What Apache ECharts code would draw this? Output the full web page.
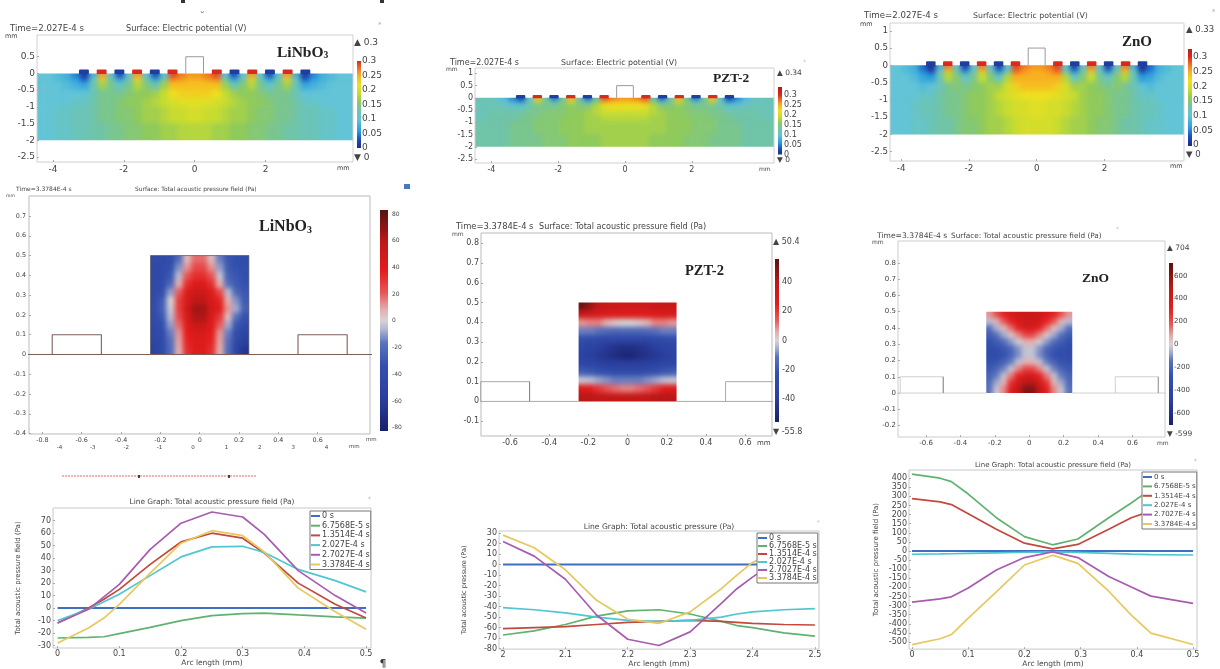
<!DOCTYPE html>
<html><head><meta charset="utf-8">
<style>
html,body{margin:0;padding:0;background:#fff;width:1220px;height:669px;overflow:hidden}
#heat,#main{position:absolute;left:0;top:0;width:1220px;height:669px}
#heat{filter:blur(2.6px)}
#main{filter:blur(0.45px)}
</style>
<script src="https://cdn.jsdelivr.net/npm/echarts@6/dist/echarts.min.js"></script>
</head><body><div id="heat"></div><div id="main"></div>
<script>
// ---- electric potential fields, 0.01 V, right half (x = 0 .. 4.5 mm, 0.25 mm columns); the model is symmetric about x = 0
const potColumnEdges = [0,.25,.5,.75,1,1.25,1.5,1.75,2,2.25,2.5,2.75,3,3.25,3.5,3.75,4,4.25,4.5];
const potRowEdges = [0,-.125,-.25,-.5,-.75,-1,-1.5,-2];
const potLiNbO3 = [
 [26,27,29,10,2,10,26,10,2,10,26,8,1,5,8,9,10,10],
 [25,26,27,12,6,12,23,12,6,12,23,11,3,6,8,9,10,10],
 [24,24,24,17,12,15,18,14,11,14,17,12,7,8,9,10,10,10],
 [23,23,22,19,17,16,16,15,14,14,14,12,10,10,10,10,10,10],
 [21,21,20,19,18,17,16,16,15,14,14,13,11,11,10,10,10,10],
 [20,19,19,18,17,17,16,15,15,14,14,13,12,12,11,11,10,10],
 [18,18,17,17,16,16,15,15,14,14,13,13,12,12,11,11,10,10]];
const potPZT2 = [
 [26,27,29,12,3,12,25,13,4,13,24,10,1,5,9,11,12,12],
 [24,24,25,15,10,14,20,15,11,14,18,12,6,8,10,12,12,12],
 [22,22,21,18,15,15,16,15,14,14,14,13,11,11,12,12,12,12],
 [19,19,19,18,17,16,16,15,15,15,14,14,13,13,13,13,12,12],
 [18,18,18,17,17,16,16,16,15,15,15,14,14,13,13,13,13,12],
 [17,17,17,17,17,16,16,16,15,15,15,14,14,14,13,13,13,13],
 [17,17,17,16,16,16,16,15,15,15,14,14,14,14,13,13,13,13]];
const potZnO = [
 [26,27,29,10,1,10,27,10,1,10,27,8,0,4,8,9,10,10],
 [25,26,28,12,5,13,24,12,5,13,24,11,2,5,8,9,10,10],
 [25,25,25,18,11,15,19,14,11,15,18,12,6,7,9,10,10,10],
 [24,24,23,20,17,17,16,15,14,15,14,12,10,9,10,10,10,10],
 [22,22,21,20,19,17,16,16,15,14,14,13,11,11,10,10,10,10],
 [21,20,20,19,18,17,16,16,15,14,14,13,12,12,11,10,10,10],
 [20,20,19,18,17,17,16,15,15,14,13,13,12,11,11,10,10,10]];
// ---- acoustic pressure fields, Pa, rows from y = 0.5 down to y = 0, columns x = -0.25 .. 0.25
const pressLiNbO3 = [
 [-40,-40,-38,-20,5,18,18,5,-15,-30,-35,-38],
 [-42,-40,-35,-12,12,25,25,12,-10,-28,-33,-35],
 [-42,-40,-30,-5,22,32,32,22,-3,-25,-30,-33],
 [-42,-38,-22,8,32,42,42,32,8,-18,-28,-32],
 [-42,-35,-10,20,40,50,50,40,25,-5,-22,-30],
 [-40,-28,0,28,45,58,58,45,35,8,-12,-28],
 [-38,-25,-2,28,48,65,65,48,38,12,-8,-25],
 [-40,-30,-5,25,45,62,62,45,30,5,-18,-32],
 [-42,-35,-10,18,40,52,52,40,20,-8,-30,-40],
 [-45,-38,-15,12,38,45,45,38,12,-15,-38,-48],
 [-48,-40,-18,10,35,42,42,35,10,-18,-42,-55],
 [-52,-42,-20,8,32,40,40,32,8,-20,-48,-65]];
const pressPZT2 = [
 [52,45,38,35,35,33,33,33,33,35,35,35],
 [35,32,30,28,28,28,28,28,28,28,30,30],
 [8,10,10,5,2,0,0,2,5,10,10,8],
 [-10,-10,-12,-14,-15,-15,-15,-15,-14,-12,-10,-10],
 [-25,-27,-28,-30,-30,-30,-30,-30,-30,-28,-27,-25],
 [-32,-35,-38,-42,-45,-47,-47,-45,-42,-38,-35,-32],
 [-35,-38,-42,-45,-48,-52,-52,-48,-45,-42,-38,-35],
 [-30,-32,-35,-37,-38,-38,-38,-38,-37,-35,-32,-30],
 [-18,-20,-22,-24,-26,-26,-26,-26,-24,-22,-20,-18],
 [-2,-3,-6,-8,-10,-10,-10,-10,-8,-6,-3,-2],
 [28,25,20,15,12,10,10,12,15,20,25,28],
 [40,40,38,38,38,38,38,38,38,40,40,40]];
const pressZnO = [
 [100,200,300,380,420,450,450,420,380,300,200,100],
 [-40,60,180,300,390,420,420,390,300,180,60,-40],
 [-150,-60,40,150,300,380,380,300,150,40,-60,-150],
 [-230,-150,-70,20,120,220,220,120,20,-70,-150,-230],
 [-280,-230,-170,-90,-10,70,70,-10,-90,-170,-230,-280],
 [-320,-300,-250,-190,-100,-30,-30,-100,-190,-250,-300,-320],
 [-340,-320,-280,-200,-110,-30,-30,-110,-200,-280,-320,-340],
 [-300,-270,-210,-130,-30,60,60,-30,-130,-210,-270,-300],
 [-250,-200,-120,-20,120,220,220,120,-20,-120,-200,-250],
 [-200,-130,-30,130,300,380,380,300,130,-30,-130,-200],
 [-170,-70,60,260,400,500,500,400,260,60,-70,-170],
 [-140,-20,120,330,470,620,620,470,330,120,-20,-140]];
const pressColumnEdges = [-.25,-.2083,-.1667,-.125,-.0833,-.0417,0,.0417,.0833,.125,.1667,.2083,.25];
const pressRowEdges = [.5,.4583,.4167,.375,.3333,.2917,.25,.2083,.1667,.125,.0833,.0417,0];
// ---- electrodes
const electrodeBlue = [-3.125,-2.125,-1.125,1.125,2.125,3.125];
const electrodeRed = [-2.625,-1.625,-.625,.625,1.625,2.625];
// ---- line graphs
const seriesNames = ['0 s','6.7568E-5 s','1.3514E-4 s','2.027E-4 s','2.7027E-4 s','3.3784E-4 s'];
const arcLiNbO3 = [0,.05,.075,.1,.15,.2,.25,.3,.335,.39,.45,.5];
const lineLiNbO3 = [
 [0,0,0,0,0,0,0,0,0,0,0,0],
 [-24,-23.5,-23,-20.5,-15.5,-10,-6,-4.5,-4,-5.5,-7,-8],
 [-12,0,7,15,35,53,60,56,44,20,3,-8],
 [-10,-1,5,11,26,41,49,49.5,44.5,31,22,13],
 [-12,-1,9,19,47,68,77,73,59,30,10,-4],
 [-28,-16,-8,3,28,52,62,58,45,16,-3,-17]];
const arcPZT2 = [2,2.05,2.1,2.15,2.2,2.25,2.3,2.35,2.375,2.4,2.45,2.5];
const linePZT2 = [
 [0,0,0,0,0,0,0,0,0,0,0,0],
 [-67,-63,-57,-49,-44,-43,-47,-54,-58,-60,-65,-68],
 [-61,-60,-59,-57,-55,-54,-53,-54,-55,-56,-57,-57.5],
 [-41,-43,-46,-50,-53,-54,-53,-50,-47,-45,-43,-42],
 [22,8,-14,-48,-71,-77,-64,-37,-23,-12,8,22],
 [28,16,-5,-34,-52,-56,-45,-23,-10,2,16,28]];
const arcZnO = [0,.05,.07,.1,.15,.2,.25,.295,.35,.39,.425,.5];
const lineZnO = [
 [0,0,0,0,0,0,0,0,0,0,0,0],
 [422,400,381,313,183,79,34,66,183,264,340,420],
 [288,270,255,205,120,43,12,36,120,183,219,284],
 [-18,-16,-15,-13,-10,-7,-5,-8,-13,-17,-20,-22],
 [-281,-263,-252,-203,-104,-36,-5,-36,-140,-198,-248,-288],
 [-514,-482,-459,-369,-225,-77,-23,-68,-221,-352,-451,-514]];
// ---- tick labels
const ticksA = {x:[-4,-2,0,2], y:[.5,0,-.5,-1,-1.5,-2,-2.5]};
const ticksB = {x:[-4,-2,0,2], y:[1,.5,0,-.5,-1,-1.5,-2,-2.5]};
const ticksD = {x:[-.8,-.6,-.4,-.2,0,.2,.4,.6], y:[.7,.6,.5,.4,.3,.2,.1,0,-.1,-.2,-.3,-.4], x2:[-4,-3,-2,-1,0,1,2,3,4]};
const ticksE = {x:[-.6,-.4,-.2,0,.2,.4,.6], y:[.8,.7,.6,.5,.4,.3,.2,.1,0,-.1]};
const ticksF = {x:[-.6,-.4,-.2,0,.2,.4,.6], y:[.8,.7,.6,.5,.4,.3,.2,.1,0,-.1,-.2]};
const ticksG = {x:[0,.1,.2,.3,.4,.5], y:[70,60,50,40,30,20,10,0,-10,-20,-30]};
const ticksH = {x:[2,2.1,2.2,2.3,2.4,2.5], y:[30,20,10,0,-10,-20,-30,-40,-50,-60,-70,-80]};
const ticksI = {x:[0,.1,.2,.3,.4,.5], y:[400,350,300,250,200,150,100,50,0,-50,-100,-150,-200,-250,-300,-350,-400,-450,-500]};
const barPot = [.3,.25,.2,.15,.1,.05,0];
const barA = [80,60,40,20,0,-20,-40,-60,-80];
const barE = [40,20,0,-20,-40];
const barF = [600,400,200,0,-200,-400,-600];

// ---- colour maps
const rainbow = [[0,'#1c2c8c'],[3,'#1a50c0'],[6,'#2a9ee0'],[10,'#62c4d6'],[13,'#70c4a8'],[16,'#8fca5c'],[19,'#c8dc30'],[22,'#eee020'],[25,'#f8b020'],[28,'#ee6020'],[30,'#d42820'],[34,'#b81818']];
const wave = [[-1,'#18206a'],[-.7,'#2a3f9e'],[-.4,'#3350ae'],[-.2,'#5a72bc'],[-.08,'#b0b5d2'],[0,'#d8d4d4'],[.1,'#e3b0b0'],[.25,'#e85858'],[.45,'#e41c1c'],[.7,'#c01818'],[1,'#5a1010']];
function colorAt(stops,v){
  if(v<=stops[0][0])return stops[0][1];
  for(let i=1;i<stops.length;i++){ if(v<=stops[i][0]){
    const t=(v-stops[i-1][0])/(stops[i][0]-stops[i-1][0]);
    return echarts.color.lerp(t,[stops[i-1][1],stops[i][1]]);
  }}
  return stops[stops.length-1][1];
}
const FONT='DejaVu Sans';
// ---- panel layout [left, top, right, bottom] in px
const surf=[
 {g:[37,35,353,162],x:[-4.45,4.47],y:[-2.65,1.15],t:ticksA,f:9,xe:ticksA,bc:'#d0d0d0'},
 {g:[475,68,774,163],x:[-4.49,4.46],y:[-2.66,1.22],t:ticksB,f:8,bc:'#d0d0d0'},
 {g:[890,23,1184,161],x:[-4.33,4.35],y:[-2.77,1.226],t:ticksB,f:8.7,bc:'#d0d0d0'},
 {g:[29,196,370,434],x:[-.868,.866],y:[-.402,.801],t:ticksD,f:6.4,bc:'#bbb'},
 {g:[481,233,772,436],x:[-.748,.737],y:[-.175,.852],t:ticksE,f:8,bc:'#bbb'},
 {g:[898,241,1165,437],x:[-.763,.789],y:[-.27,.934],t:ticksF,f:7,bc:'#ccc'}];
const lines=[
 {g:[53,508,371,648],x:[-.0075,.508],y:[-32,80.2],t:ticksG,arc:arcLiNbO3,v:lineLiNbO3,name:'Total acoustic pressure field (Pa)',nameGap:31,xGap:8,
  leg:[310,511],row:.7,lf:8},
 {g:[499,531,819,651],x:[1.9936,2.5066],y:[-80.4,31.9],t:ticksH,arc:arcPZT2,v:linePZT2,name:'Total acoustic pressure (Pa)',nameGap:31,xGap:5,
  leg:[757,533],row:-1,lf:8},
 {g:[909,470,1197,652],x:[-.0054,.507],y:[-539,445],t:ticksI,arc:arcZnO,v:lineZnO,name:'Total acoustic pressure field (Pa)',nameGap:29,xGap:7,
  leg:[1142,472],row:.4,lf:7}];
const lineColors=['#3f6fbf','#5fb36f','#c2493c','#4fc6d2','#a85cb0','#e8c85e'];
const bars=[
 {g:[357,61,361,148],r:[0,.3],t:barPot,pal:rainbow,k:100,f:9,m:1},
 {g:[778,87,782,154.5],r:[0,.34],t:barPot,pal:rainbow,k:100,f:8,m:2},
 {g:[1188,49,1192,146],r:[-.003,.327],t:barPot,pal:rainbow,k:100,f:9,m:1},
 {g:[380,210,388,431],r:[-82.5,83],t:barA,pal:wave,s:83,f:6,m:4},
 {g:[775,259,779,422],r:[-55.7,55.7],t:barE,pal:wave,s:55.7,f:8,m:3},
 {g:[1169,263,1173,425],r:[-702,711],t:barF,pal:wave,s:705,f:7,m:1}];
const box=g=>({left:g[0],top:g[1],width:g[2]-g[0],height:g[3]-g[1],containLabel:false});

// ================= heat layer =================
function heatSeries(i,data,colorFn,bounds){
  return {type:'custom',coordinateSystem:'cartesian2d',xAxisIndex:i,yAxisIndex:i,silent:true,clip:false,data,
    encode:{x:[0,1],y:[2,3]},
    renderItem(params,api){
      const a=api.coord([api.value(0),api.value(2)]), b=api.coord([api.value(1),api.value(3)]);
      let x0=a[0],x1=b[0],y0=a[1],y1=b[1];
      if(api.value(0)===bounds[0])x0-=12; if(api.value(1)===bounds[1])x1+=12;
      if(api.value(2)===bounds[2])y0-=12; if(api.value(3)===bounds[3])y1+=12;
      const c=colorFn(api.value(4));
      return {type:'rect',shape:{x:x0,y:y0,width:x1-x0,height:y1-y0},style:{fill:c,stroke:c,lineWidth:1}};
    }};
}
function potData(m){const out=[];m.forEach((row,r)=>row.forEach((v,c)=>{
  out.push([potColumnEdges[c],potColumnEdges[c+1],potRowEdges[r],potRowEdges[r+1],v]);
  out.push([-potColumnEdges[c+1],-potColumnEdges[c],potRowEdges[r],potRowEdges[r+1],v]);
}));return out;}
function pressData(m){const out=[];m.forEach((row,r)=>row.forEach((v,c)=>{
  out.push([pressColumnEdges[c],pressColumnEdges[c+1],pressRowEdges[r],pressRowEdges[r+1],v]);
}));return out;}
const heat=echarts.init(document.getElementById('heat'),null,{renderer:'canvas'});
heat.setOption({animation:false,
  grid:surf.map(p=>box(p.g)),
  xAxis:surf.map((p,i)=>({type:'value',gridIndex:i,min:p.x[0],max:p.x[1],show:false})),
  yAxis:surf.map((p,i)=>({type:'value',gridIndex:i,min:p.y[0],max:p.y[1],show:false})),
  series:[
   heatSeries(0,potData(potLiNbO3),v=>colorAt(rainbow,v),[-4.5,4.5,0,-2]),
   heatSeries(1,potData(potPZT2),v=>colorAt(rainbow,v),[-4.5,4.5,0,-2]),
   heatSeries(2,potData(potZnO),v=>colorAt(rainbow,v),[-4.5,4.5,0,-2]),
   heatSeries(3,pressData(pressLiNbO3),v=>colorAt(wave,v/83),[-.25,.25,.5,0]),
   heatSeries(4,pressData(pressPZT2),v=>colorAt(wave,v/55.7),[-.25,.25,.5,0]),
   heatSeries(5,pressData(pressZnO),v=>colorAt(wave,v/705),[-.25,.25,.5,0])
  ]});
// clip the blurred layer to the field rectangles, as located by the axes
{
  const rects=surf.map((p,i)=>{
    const pot=i<3;
    const xa=pot?p.x[0]:-.25, xb=pot?p.x[1]:.25, yt=pot?0:.5, yb=pot?-2:0;
    const A=heat.convertToPixel({gridIndex:i},[xa,yt]), B=heat.convertToPixel({gridIndex:i},[xb,yb]);
    return `M${A[0]} ${A[1]}H${B[0]}V${B[1]}H${A[0]}Z`;
  }).join('');
  document.getElementById('heat').style.clipPath=`path('${rects}')`;
}

// ================= main layer =================
const grids=[...surf,...lines,...bars].map(p=>box(p.g));
const labelStyle=(f,c)=>({fontFamily:FONT,fontSize:f,color:c||'#444',formatter:v=>String(v)});
const noLine={show:false,onZero:false};
const xAxes=[],yAxes=[];
surf.forEach((p,i)=>{
  xAxes.push({type:'value',gridIndex:i,min:p.x[0],max:p.x[1],axisLine:noLine,splitLine:{show:false},
    axisTick:{customValues:p.t.x,inside:true,length:2,lineStyle:{color:'#aaa'}},
    axisLabel:{...labelStyle(p.f),customValues:p.t.x,margin:3}});
  yAxes.push({type:'value',gridIndex:i,min:p.y[0],max:p.y[1],axisLine:noLine,splitLine:{show:false},
    axisTick:{customValues:p.t.y,inside:true,length:2,lineStyle:{color:'#aaa'}},
    axisLabel:{...labelStyle(p.f),customValues:p.t.y,margin:i===3?3:2}});
});
lines.forEach((p,k)=>{
  const i=6+k;
  xAxes.push({type:'value',gridIndex:i,min:p.x[0],max:p.x[1],axisLine:noLine,splitLine:{show:false},
    axisTick:{customValues:p.t.x,inside:true,length:2,lineStyle:{color:'#aaa'}},
    axisLabel:{...labelStyle(8),customValues:p.t.x,margin:2},
    name:'Arc length (mm)',nameLocation:'middle',nameGap:p.xGap,nameTextStyle:{fontFamily:FONT,fontSize:7.5,color:'#444',verticalAlign:'top'}});
  yAxes.push({type:'value',gridIndex:i,min:p.y[0],max:p.y[1],axisLine:noLine,splitLine:{show:false},
    axisTick:{customValues:p.t.y,inside:true,length:2,lineStyle:{color:'#aaa'}},
    axisLabel:{...labelStyle(8),customValues:p.t.y,margin:2},
    name:p.name,nameLocation:'middle',nameRotate:90,nameGap:p.nameGap,nameTextStyle:{fontFamily:FONT,fontSize:k===1?6.5:7,color:'#444'}});
});
bars.forEach((p,k)=>{
  const i=9+k;
  xAxes.push({type:'value',gridIndex:i,min:0,max:1,show:false});
  yAxes.push({type:'value',gridIndex:i,position:'right',min:p.r[0],max:p.r[1],axisLine:noLine,axisTick:{show:false},splitLine:{show:false},
    axisLabel:{...labelStyle(p.f),customValues:p.t,margin:p.m}});
});
// second scale under the LiNbO3 pressure panel
xAxes.push({type:'value',gridIndex:3,position:'bottom',offset:8,min:-4.91,max:5.3,axisLine:noLine,axisTick:{show:false},splitLine:{show:false},
  axisLabel:{...labelStyle(5.5),customValues:ticksD.x2,margin:3}});

const series=[];
// outlines
const outline=(i,pts,color,w)=>series.push({type:'line',xAxisIndex:i,yAxisIndex:i,data:pts,showSymbol:false,silent:true,
   lineStyle:{color,width:w},z:3});
const dropOutline=[[-.25,0],[-.25,.5],[.25,.5],[.25,0]];
[0,1,2].forEach(i=>outline(i,dropOutline,'#9a9a9a',1));
const groundLeft=[[-.9,0],[-.25,0]], groundRight=[[.25,0],[.9,0]];
const sensorLeft=[[-.75,0],[-.75,.1],[-.5,.1],[-.5,0]], sensorRight=[[.5,0],[.5,.1],[.75,.1],[.75,0]];
[[3,'#7c6058',1.1],[4,'#aaaaaa',1],[5,'#cfcfcf',1]].forEach(([i,c,w])=>{
  [groundLeft,groundRight,sensorLeft,sensorRight].forEach(s=>outline(i,s,c,w));
});
outline(3,[[-.25,0],[.25,0]],'#7c6058',1.1);
outline(3,[[-.25,0],[-.25,.5],[.25,.5],[.25,0]],'#55505a',.7);
outline(4,[[-.5,0],[-.5,.1]],'#888',1);
outline(5,[[-.5,0],[-.5,.1]],'#888',1);
outline(5,[[.75,0],[.75,.1]],'#999',1);
// electrodes
[0,1,2].forEach(i=>{
  const d=[...electrodeBlue.map(x=>[x-.14,x+.14,.12,-.02,0]),...electrodeRed.map(x=>[x-.14,x+.14,.12,-.02,1])];
  series.push({type:'custom',xAxisIndex:i,yAxisIndex:i,silent:true,data:d,encode:{x:[0,1],y:[2,3]},z:4,
    renderItem(params,api){
      const a=api.coord([api.value(0),api.value(2)]),b=api.coord([api.value(1),api.value(3)]);
      return {type:'rect',shape:{x:a[0],y:a[1],width:b[0]-a[0],height:b[1]-a[1],r:[1,1,0,0]},
        style:{fill:api.value(4)?'#d82a20':'#1f3fa0'}};
    }});
});
// line graphs
lines.forEach((p,k)=>{
  p.v.forEach((vals,j)=>series.push({type:'line',name:seriesNames[j],xAxisIndex:6+k,yAxisIndex:6+k,
    data:vals.map((v,q)=>[p.arc[q],v]),showSymbol:false,silent:true,
    lineStyle:{color:lineColors[j],width:j===0?2:1.7},itemStyle:{color:lineColors[j]},z:j===0?2:3}));
});
// colour bars
bars.forEach((p,k)=>{
  const n=40,st=[];
  for(let q=0;q<=n;q++){const v=p.r[1]-(p.r[1]-p.r[0])*q/n;
    st.push({offset:q/n,color:p.pal===rainbow?colorAt(rainbow,v*p.k):colorAt(wave,v/p.s)});}
  series.push({type:'custom',xAxisIndex:9+k,yAxisIndex:9+k,silent:true,data:[[0,1,p.r[1],p.r[0]]],encode:{x:[0,1],y:[2,3]},
    renderItem(params,api){
      const a=api.coord([api.value(0),api.value(2)]),b=api.coord([api.value(1),api.value(3)]);
      return {type:'rect',shape:{x:a[0],y:a[1],width:b[0]-a[0],height:b[1]-a[1]},
        style:{fill:new echarts.graphic.LinearGradient(0,0,0,1,st)}};
    }});
});
// annotation text
const T=(text,x,y,size,o={})=>({type:'text',x,y,silent:true,z:20,style:{text,fontFamily:o.font||FONT,fontSize:size,fontWeight:o.bold?'bold':'normal',
   fill:o.color||'#444',textAlign:o.align||'left',textVerticalAlign:'middle',rich:o.rich}});
const SER='Liberation Serif';
const liRich=s=>({a:{fontFamily:SER,fontWeight:'bold',fontSize:s,fill:'#222'},b:{fontFamily:SER,fontWeight:'bold',fontSize:s*.62,fill:'#222',verticalAlign:'bottom',padding:[s*.35,0,0,0]}});
const notes=[
 T('Time=2.027E-4 s',10,29,8.6),T('Surface: Electric potential (V)',126,29,8.2),T('mm',5,36,6.5),T('mm',337,168,6.5),
 T('▲ 0.3',354,43,9),T('▼ 0',354,158,9),
 T('{a|LiNbO}{b|3}',277,53,15,{rich:liRich(15.5)}),
 T('Time=2.027E-4 s',450,63,8,{}),T('Surface: Electric potential (V)',561,63,7.9),T('mm',446,69,6),T('mm',759,169,6),
 T('▲ 0.34',777,73,7.5),T('▼ 0',777,160,7.5),
 T('PZT-2',713,79,13.5,{font:SER,bold:true,color:'#222'}),
 T('Time=2.027E-4 s',864,16,8.6),T('Surface: Electric potential (V)',973,16,7.8),T('mm',860,24,6.5),T('mm',1170,166,6.5),
 T('▲ 0.33',1186,30,8.5),T('▼ 0',1186,155,8.5),
 T('ZnO',1122,42,15,{font:SER,bold:true,color:'#222'}),
 T('Time=3.3784E-4 s',16,189,6),T('Surface: Total acoustic pressure field (Pa)',135,189,5.9),T('mm',6,196,4.5),T('mm',366,440,5.5),T('mm',349,447,5.5),
 T('{a|LiNbO}{b|3}',259,227,16,{rich:liRich(16)}),
 T('Time=3.3784E-4 s',456,227,8.4),T('Surface: Total acoustic pressure field (Pa)',539,227,8.1),T('mm',452,234,6),T('mm',757,443,7),
 T('▲ 50.4',773,242,8),T('▼ -55.8',773,432,8),
 T('PZT-2',685,271,14.5,{font:SER,bold:true,color:'#222'}),
 T('Time=3.3784E-4 s',877,236,7.6),T('Surface: Total acoustic pressure field (Pa)',951,236,7.3),T('mm',872,242,6),T('mm',1157,443,6),
 T('▲ 704',1167,248,7.5),T('▼ -599',1167,434,7.5),
 T('ZnO',1082,279,13.5,{font:SER,bold:true,color:'#222'}),
 T('Line Graph: Total acoustic pressure field (Pa)',212,502,7.4,{align:'center'}),
 T('Line Graph: Total acoustic pressure (Pa)',659,527,7.6,{align:'center'}),
 T('Line Graph: Total acoustic pressure field (Pa)',1053,465,7,{align:'center'}),
 T('¶',383,664,11,{align:'center',color:'#333'}),
 T('*',378,25,7,{color:'#aaa'}),T('*',803,62,6,{color:'#bbb'}),T('*',1212,12,7,{color:'#aaa'}),
 T('*',1116,229,6,{color:'#bbb'}),T('*',368,499,6,{color:'#aaa'}),T('*',817,523,5,{color:'#aaa'}),T('*',1194,461,6,{color:'#aaa'}),
 T('˘',200,17,9,{color:'#555'}),
 {type:'line',silent:true,shape:{x1:62,y1:476,x2:257,y2:476},style:{stroke:'#e04040',lineWidth:.8,lineDash:[2,1]}},
 {type:'rect',silent:true,shape:{x:181,y:0,width:4,height:3},style:{fill:'#333'}},
 {type:'rect',silent:true,shape:{x:380,y:0,width:4,height:3},style:{fill:'#333'}},
 {type:'rect',silent:true,shape:{x:404,y:184,width:6,height:5},style:{fill:'#4a78b8'}},
 {type:'rect',silent:true,shape:{x:138,y:475,width:2,height:3},style:{fill:'#444'}},
 {type:'rect',silent:true,shape:{x:228,y:475,width:2,height:3},style:{fill:'#444'}}
];
const legends=lines.map(p=>({orient:'vertical',left:p.leg[0],top:p.leg[1],data:seriesNames,icon:'rect',itemWidth:9,itemHeight:2,itemGap:p.row+1,
  padding:[1,1,1,1],backgroundColor:'#fff',borderColor:'#777',borderWidth:1,selectedMode:false,
  textStyle:{fontFamily:FONT,fontSize:p.lf,color:'#444',padding:[0,0,0,-3],lineHeight:p.lf===7?8:8},z:10}));

const chart=echarts.init(document.getElementById('main'),null,{renderer:'canvas'});
chart.setOption({animation:false,backgroundColor:'transparent',
  grid:grids.map((g,i)=>{
    const isBar=i>=9;
    return {...g,show:!isBar,backgroundColor:'transparent',borderColor:i<6?surf[i].bc:'#c4c8cc',borderWidth:1};
  }),
  xAxis:xAxes,yAxis:yAxes,series,legend:legends,graphic:notes});
</script></body></html>
